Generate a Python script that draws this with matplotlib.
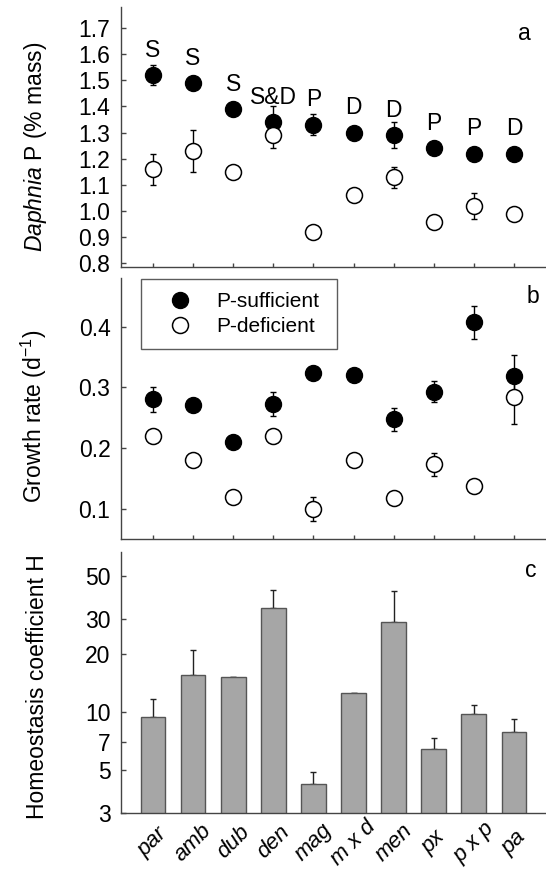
import numpy as np
import matplotlib
matplotlib.use("Agg")
import matplotlib.pyplot as plt
from matplotlib.ticker import FixedLocator, NullLocator, FixedFormatter

plt.rcParams['font.family'] = ['Liberation Sans', 'DejaVu Sans']
plt.rcParams['mathtext.fontset'] = 'custom'
plt.rcParams['mathtext.rm'] = 'Liberation Sans'
plt.rcParams['mathtext.it'] = 'Liberation Sans:italic'

species = ['par', 'amb', 'dub', 'den', 'mag', 'm x d', 'men', 'px', 'p x p', 'pa']

# panel a: Daphnia P (% mass)
p_suff = [1.52, 1.49, 1.39, 1.34, 1.33, 1.30, 1.29, 1.24, 1.22, 1.22]
p_suff_err = [0.04, 0, 0, 0.06, 0.04, 0, 0.05, 0, 0, 0]
p_def = [1.16, 1.23, 1.15, 1.29, 0.92, 1.06, 1.13, 0.96, 1.02, 0.99]
p_def_err = [0.06, 0.08, 0, 0.05, 0, 0, 0.04, 0, 0.05, 0]
letters = ['S', 'S', 'S', 'S&D', 'P', 'D', 'D', 'P', 'P', 'D']

# panel b: growth rate
g_suff = [0.280, 0.270, 0.210, 0.273, 0.323, 0.320, 0.247, 0.293, 0.407, 0.319]
g_suff_err = [0.020, 0, 0, 0.020, 0.008, 0, 0.019, 0.017, 0.027, 0.034]
g_def = [0.220, 0.180, 0.120, 0.220, 0.100, 0.180, 0.117, 0.173, 0.137, 0.284]
g_def_err = [0.012, 0, 0, 0.012, 0.020, 0, 0, 0.019, 0, 0.045]

# panel c: homeostasis coefficient H
h_val = [9.4, 15.5, 15.2, 34.2, 4.26, 12.5, 29.1, 6.4, 9.7, 7.9]
h_err = [2.2, 5.3, 0, 8.4, 0.64, 0, 12.7, 0.95, 1.2, 1.25]

x = np.arange(1, len(species) + 1)
W, H = 546, 874
fig = plt.figure(figsize=(W / 100, H / 100), dpi=100)

left = 121.5 / W
width = 1 - left
ax_a = fig.add_axes([left, 1 - 267.3 / H, width, 260.3 / H])
ax_b = fig.add_axes([left, 1 - 539 / H, width, 261 / H])
ax_c = fig.add_axes([left, 1 - 813.3 / H, width, 261.6 / H])

fs = 16.5
spc = '#444444'
for ax in (ax_a, ax_b, ax_c):
    ax.set_xlim(0.215, 10.8)
    for s in ('top', 'right'):
        ax.spines[s].set_visible(False)
    for s in ('left', 'bottom'):
        ax.spines[s].set_color(spc)
        ax.spines[s].set_linewidth(1.0)
    ax.tick_params(axis='y', direction='in', length=3.5, width=1, color=spc,
                   labelsize=fs, pad=8)
    ax.tick_params(axis='x', direction='in', length=3, width=1, color=spc)
    ax.set_xticks(x)


def points(ax, vals, errs, filled):
    ax.errorbar(x, vals, yerr=errs, fmt='none', ecolor='black', elinewidth=1,
                capsize=2.5, capthick=1, zorder=2)
    if filled:
        ax.plot(x, vals, 'o', ms=11.5, mfc='black', mec='black', ls='none',
                zorder=3, label='P-sufficient')
    else:
        ax.plot(x, vals, 'o', ms=11.5, mfc='white', mec='black', mew=1.1,
                ls='none', zorder=3, label='P-deficient')


# panel a
points(ax_a, p_suff, p_suff_err, True)
points(ax_a, p_def, p_def_err, False)
ax_a.set_ylim(0.785, 1.78)
ticks_a = np.round(np.arange(0.8, 1.71, 0.1), 1)
ax_a.set_yticks(ticks_a)
ax_a.set_yticklabels(['%.1f' % v for v in ticks_a])
ax_a.set_xticklabels([])
for xi, v, t in zip(x, p_suff, letters):
    ax_a.text(xi, v + 0.095, t, ha='center', va='center', fontsize=fs)
ax_a.text(0.948, 0.899, 'a', transform=ax_a.transAxes, fontsize=fs,
          ha='center', va='center')
ax_a.set_ylabel(r'$\it{Daphnia}$ P (% mass)', fontsize=fs)
ax_a.yaxis.set_label_coords(-0.17, 0.462)

# panel b
points(ax_b, g_suff, g_suff_err, True)
points(ax_b, g_def, g_def_err, False)
ax_b.set_ylim(0.05, 0.48)
ax_b.set_yticks([0.1, 0.2, 0.3, 0.4])
ax_b.set_yticklabels(['0.1', '0.2', '0.3', '0.4'])
ax_b.set_xticklabels([])
ax_b.text(0.969, 0.928, 'b', transform=ax_b.transAxes, fontsize=fs,
          ha='center', va='center')
ax_b.set_ylabel('Growth rate (d$^{-1}$)', fontsize=fs)
ax_b.yaxis.set_label_coords(-0.17, 0.469)
leg = ax_b.legend(loc='upper left', bbox_to_anchor=(0.0459, 0.0, 0.4617, 0.995),
                  mode='expand', fontsize=15, frameon=True, fancybox=False,
                  borderpad=0.6, labelspacing=0.3, handletextpad=0.5,
                  borderaxespad=0, handlelength=2.5)
leg.get_frame().set_edgecolor('#333333')
leg.get_frame().set_linewidth(1.0)

# panel c
ax_c.set_yscale('log')
ax_c.bar(x, h_val, width=0.616, color='#a6a6a6', edgecolor='#555555',
         linewidth=1, zorder=2)
ax_c.errorbar(x, h_val, yerr=[np.zeros(len(h_err)), h_err], fmt='none',
              ecolor='#222222', elinewidth=1, capsize=2.5, capthick=1, zorder=1)
ax_c.set_ylim(3, 67)
ax_c.yaxis.set_major_locator(FixedLocator([3, 5, 7, 10, 20, 30, 50]))
ax_c.yaxis.set_major_formatter(FixedFormatter(['3', '5', '7', '10', '20', '30', '50']))
ax_c.yaxis.set_minor_locator(NullLocator())
ax_c.tick_params(axis='x', length=0, pad=21)
ax_c.set_xticklabels(species, rotation=45, ha='center', va='center',
                     rotation_mode='anchor', fontsize=fs - 0.5, style='italic')
ax_c.text(0.965, 0.93, 'c', transform=ax_c.transAxes, fontsize=fs,
          ha='center', va='center')
ax_c.set_ylabel('Homeostasis coefficient H', fontsize=fs)
ax_c.yaxis.set_label_coords(-0.17, 0.484)

fig.savefig('out.png', dpi=100)
